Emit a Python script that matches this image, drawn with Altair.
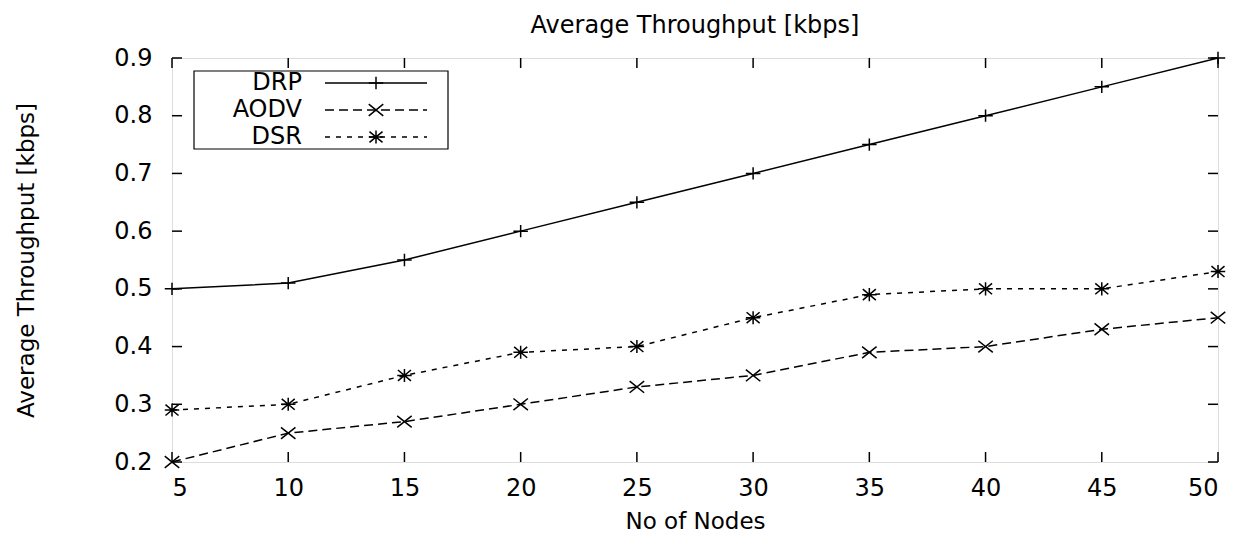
import altair as alt
import pandas as pd

# ---- data ----
nodes = [5, 10, 15, 20, 25, 30, 35, 40, 45, 50]
drp = [0.50, 0.51, 0.55, 0.60, 0.65, 0.70, 0.75, 0.80, 0.85, 0.90]
aodv = [0.20, 0.25, 0.27, 0.30, 0.33, 0.35, 0.39, 0.40, 0.43, 0.45]
dsr = [0.29, 0.30, 0.35, 0.39, 0.40, 0.45, 0.49, 0.50, 0.50, 0.53]
series_names = ["DRP", "AODV", "DSR"]
x_ticks = [5, 10, 15, 20, 25, 30, 35, 40, 45, 50]
y_ticks = [0.2, 0.3, 0.4, 0.5, 0.6, 0.7, 0.8, 0.9]

chart_title = "Average Throughput [kbps]"
x_title = "No of Nodes"
y_title = "Average Throughput [kbps]"

# ---- style ----
W, H = 1046, 404
FONT = "DejaVu Sans"
FS = 24
TICK = 10
shapes = {
    "DRP": "M-1,0L1,0M0,-0.85L0,0.85",
    "AODV": "M-1,-0.8L1,0.8M-1,0.8L1,-0.8",
    "DSR": "M-1,0L1,0M0,-0.9L0,0.9M-0.9,-0.75L0.9,0.75M-0.9,0.75L0.9,-0.75",
}
dash = {"DRP": None, "AODV": [9, 5], "DSR": [5, 6]}

values = {"DRP": drp, "AODV": aodv, "DSR": dsr}

xscale = alt.Scale(domain=[5, 50], nice=False, zero=False)
yscale = alt.Scale(domain=[0.2, 0.9], nice=False, zero=False)
xaxis = alt.Axis(values=x_ticks, ticks=False, domain=False, grid=False,
                 labelPadding=14, title=x_title, titlePadding=10,
                 labelFontSize=FS, titleFontSize=23, labelFont=FONT, titleFont=FONT,
                 titleFontWeight="normal", labelColor="black", titleColor="black")
yaxis = alt.Axis(values=y_ticks, ticks=False, domain=False, grid=False, format=".1f",
                 labelPadding=20, title=y_title, titleX=-146, titleY=H / 2,
                 titleAlign="center", titleBaseline="middle", titleAngle=270,
                 labelFontSize=FS, titleFontSize=23, labelFont=FONT, titleFont=FONT,
                 titleFontWeight="normal", labelColor="black", titleColor="black")


def X(field="x"):
    return alt.X(f"{field}:Q", scale=xscale, axis=xaxis)


def Y(field="y"):
    return alt.Y(f"{field}:Q", scale=yscale, axis=yaxis)


layers = []
one = pd.DataFrame({"a": [0]})

# inner ticks (mirrored on all sides)
xt = pd.DataFrame({"x": x_ticks})
yt = pd.DataFrame({"y": y_ticks})
layers.append(alt.Chart(xt).mark_rule(color="black", strokeWidth=1.5).encode(
    x=X(), y=alt.value(H), y2=alt.value(H - TICK)))
layers.append(alt.Chart(xt).mark_rule(color="black", strokeWidth=1.5).encode(
    x=X(), y=alt.value(0), y2=alt.value(TICK)))
layers.append(alt.Chart(yt).mark_rule(color="black", strokeWidth=1.5).encode(
    y=Y(), x=alt.value(0), x2=alt.value(TICK)))
layers.append(alt.Chart(yt).mark_rule(color="black", strokeWidth=1.5).encode(
    y=Y(), x=alt.value(W), x2=alt.value(W - TICK)))

# series
for name in series_names:
    df = pd.DataFrame({"x": nodes, "y": values[name]})
    lk = dict(color="black", strokeWidth=1.5)
    if dash[name]:
        lk["strokeDash"] = dash[name]
    layers.append(alt.Chart(df).mark_line(**lk).encode(x=X(), y=Y()))
    layers.append(alt.Chart(df).mark_point(shape=shapes[name], filled=False, size=210,
                                           stroke="black", strokeWidth=1.5, opacity=1
                                           ).encode(x=X(), y=Y()))

# legend box
layers.append(alt.Chart(one).mark_rect(fill="white", stroke="black", strokeWidth=1.2).encode(
    x=alt.value(22), x2=alt.value(276), y=alt.value(13), y2=alt.value(91)))
rows = [25, 52, 79]
for name, ry in zip(series_names, rows):
    d = pd.DataFrame({"name": [name]})
    layers.append(alt.Chart(d).mark_text(align="right", baseline="middle", fontSize=FS,
                                         font=FONT, color="black").encode(
        x=alt.value(130), y=alt.value(ry), text="name:N"))
    lk = dict(color="black", strokeWidth=1.5)
    if dash[name]:
        lk["strokeDash"] = dash[name]
    layers.append(alt.Chart(d).mark_rule(**lk).encode(
        x=alt.value(153), x2=alt.value(255), y=alt.value(ry)))
    layers.append(alt.Chart(d).mark_point(shape=shapes[name], filled=False, size=210,
                                          stroke="black", strokeWidth=1.5, opacity=1).encode(
        x=alt.value(204), y=alt.value(ry)))

chart = alt.layer(*layers).properties(
    width=W, height=H,
    title=alt.TitleParams(chart_title, fontSize=FS, font=FONT, fontWeight="normal",
                          offset=8, anchor="middle", color="black"),
    autosize=alt.AutoSizeParams(type="none"),
    padding={"left": 164, "top": 50, "right": 18, "bottom": 72},
).configure_view(stroke="black", strokeWidth=2.5).configure(background="white")

chart.save("out.html", embed_options={"renderer": "svg", "actions": False})
